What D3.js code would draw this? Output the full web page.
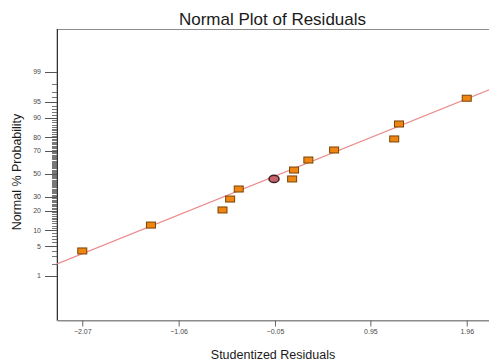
<!DOCTYPE html>
<html>
<head>
<meta charset="utf-8">
<script src="https://cdn.jsdelivr.net/npm/d3@7"></script>
<style>
  body { margin: 0; background: #fff; }
  text { font-family: "Liberation Sans", Arial, sans-serif; }
</style>
</head>
<body>
<div id="chart"></div>
<script>
'use strict';

// ── Data ───────────────────────────────────────────────────
const residuals   = [-2.07, -1.35, -0.60, -0.52, -0.43, -0.06, 0.13, 0.15, 0.30, 0.57, 1.20, 1.25, 1.96];
const probability = [3.96, 12.2, 20.6, 28.4, 36.6, 45.5, 45.5, 53.6, 62.5, 70.8, 78.8, 87.3, 95.8];
const highlighted = [false, false, false, false, false, true, false, false, false, false, false, false, false];

const xTickValues = [-2.07, -1.06, -0.05, 0.95, 1.96];
const yTickLabels = [1, 5, 10, 20, 30, 50, 70, 80, 90, 95, 99];
const yMinorTicks = d3.range(1, 100);

// reference line (normal fit): mean, sd
const fitMean = 0.004;
const fitSd   = 1.141;

// ── Inverse normal CDF (Acklam) ────────────────────────────
function probit(p) {
    const a = [-39.6968302866538, 220.946098424521, -275.928510446969, 138.357751867269, -30.6647980661472, 2.50662827745924];
    const b = [-54.4760987982241, 161.585836858041, -155.698979859887, 66.8013118877197, -13.2806815528857];
    const c = [-0.00778489400243029, -0.322396458041136, -2.40075827716184, -2.54973253934373, 4.37466414146497, 2.93816398269878];
    const d = [0.00778469570904146, 0.32246712907004, 2.445134137143, 3.75440866190742];
    const pl = 0.02425;
    let q, r;
    if (p < pl) {
        q = Math.sqrt(-2 * Math.log(p));
        return (((((c[0]*q+c[1])*q+c[2])*q+c[3])*q+c[4])*q+c[5]) / ((((d[0]*q+d[1])*q+d[2])*q+d[3])*q+1);
    }
    if (p > 1 - pl) {
        q = Math.sqrt(-2 * Math.log(1 - p));
        return -(((((c[0]*q+c[1])*q+c[2])*q+c[3])*q+c[4])*q+c[5]) / ((((d[0]*q+d[1])*q+d[2])*q+d[3])*q+1);
    }
    q = p - 0.5; r = q * q;
    return (((((a[0]*r+a[1])*r+a[2])*r+a[3])*r+a[4])*r+a[5])*q / (((((b[0]*r+b[1])*r+b[2])*r+b[3])*r+b[4])*r+1);
}
const zOf = pct => probit(pct / 100);

// ── Layout ─────────────────────────────────────────────────
const W = 489, H = 362;
const plotL = 57, plotT = 29, plotR = 492, plotB = 320;

const svg = d3.select('#chart').append('svg')
    .attr('width', W)
    .attr('height', H);

const x = d3.scaleLinear().domain([-2.335, 2.225]).range([plotL, plotR]);
const y = d3.scaleLinear().domain([-3.33, 3.307]).range([plotB, plotT]);

// plot frame
svg.append('rect')
    .attr('x', plotL).attr('y', plotT + 0.5)
    .attr('width', plotR - plotL).attr('height', plotB - plotT)
    .attr('fill', 'none')
    .attr('stroke', '#8c8c8c')
    .attr('stroke-width', 1);

svg.append('defs').append('clipPath').attr('id', 'plot-clip')
    .append('rect')
    .attr('x', plotL).attr('y', plotT)
    .attr('width', plotR - plotL).attr('height', plotB - plotT);

// ── Y axis (normal probability scale) ─────────────────────
const yAxis = svg.append('g').attr('class', 'y-axis');

yAxis.selectAll('line.minor')
    .data(yMinorTicks)
    .join('line')
    .attr('class', 'minor')
    .attr('x1', plotL - 5).attr('x2', plotL)
    .attr('y1', d => Math.round(y(zOf(d))) + 0.5)
    .attr('y2', d => Math.round(y(zOf(d))) + 0.5)
    .attr('stroke', '#555')
    .attr('stroke-width', 0.8);

yAxis.selectAll('line.major')
    .data(yTickLabels)
    .join('line')
    .attr('class', 'major')
    .attr('x1', plotL - 12).attr('x2', plotL)
    .attr('y1', d => Math.round(y(zOf(d))) + 0.5)
    .attr('y2', d => Math.round(y(zOf(d))) + 0.5)
    .attr('stroke', '#555')
    .attr('stroke-width', 1);

yAxis.selectAll('text')
    .data(yTickLabels)
    .join('text')
    .attr('x', plotL - 16)
    .attr('y', d => y(zOf(d)))
    .attr('dy', '0.35em')
    .attr('text-anchor', 'end')
    .attr('font-size', 7)
    .attr('fill', '#4a4a4a')
    .text(d => d);

svg.append('line')
    .attr('x1', plotL + 0.5).attr('x2', plotL + 0.5)
    .attr('y1', plotT).attr('y2', plotB)
    .attr('stroke', '#333')
    .attr('stroke-width', 1);

// ── X axis ─────────────────────────────────────────────────
const xAxis = svg.append('g')
    .attr('transform', `translate(0,${plotB + 0.5})`)
    .call(d3.axisBottom(x)
        .tickValues(xTickValues)
        .tickSize(6)
        .tickSizeOuter(0)
        .tickPadding(3)
        .tickFormat(d3.format('.2f')));

xAxis.select('.domain').attr('stroke', '#8c8c8c');
xAxis.selectAll('.tick line').attr('stroke', '#666');
xAxis.selectAll('.tick text')
    .attr('font-size', 7)
    .attr('font-family', '"Liberation Sans", Arial, sans-serif')
    .attr('fill', '#4a4a4a');

// ── Fit line ───────────────────────────────────────────────
const [x0, x1] = x.domain();
svg.append('line')
    .attr('clip-path', 'url(#plot-clip)')
    .attr('x1', x(x0)).attr('y1', y((x0 - fitMean) / fitSd))
    .attr('x2', x(x1)).attr('y2', y((x1 - fitMean) / fitSd))
    .attr('stroke', '#ec8a8a')
    .attr('stroke-width', 1.3);

// ── Points ─────────────────────────────────────────────────
const points = residuals.map((r, i) => ({ r, p: probability[i], hi: highlighted[i] }));

svg.selectAll('rect.pt')
    .data(points.filter(d => !d.hi))
    .join('rect')
    .attr('class', 'pt')
    .attr('x', d => x(d.r) - 4.5)
    .attr('y', d => y(zOf(d.p)) - 3)
    .attr('width', 9)
    .attr('height', 6)
    .attr('fill', '#ef8612')
    .attr('stroke', '#7a4206')
    .attr('stroke-width', 1);

svg.selectAll('ellipse.pt')
    .data(points.filter(d => d.hi))
    .join('ellipse')
    .attr('class', 'pt')
    .attr('cx', d => x(d.r))
    .attr('cy', d => y(zOf(d.p)))
    .attr('rx', 5)
    .attr('ry', 3.6)
    .attr('fill', '#c7636d')
    .attr('stroke', '#3a1e22')
    .attr('stroke-width', 1.5);

// ── Titles ─────────────────────────────────────────────────
svg.append('text')
    .attr('x', 272.5).attr('y', 25)
    .attr('text-anchor', 'middle')
    .attr('font-size', 17)
    .attr('fill', '#1a1a1a')
    .text('Normal Plot of Residuals');

svg.append('text')
    .attr('x', 273).attr('y', 359)
    .attr('text-anchor', 'middle')
    .attr('font-size', 12.5)
    .attr('fill', '#1a1a1a')
    .text('Studentized Residuals');

svg.append('text')
    .attr('transform', 'translate(21,172) rotate(-90)')
    .attr('text-anchor', 'middle')
    .attr('font-size', 12.5)
    .attr('fill', '#1a1a1a')
    .text('Normal % Probability');
</script>
</body>
</html>
